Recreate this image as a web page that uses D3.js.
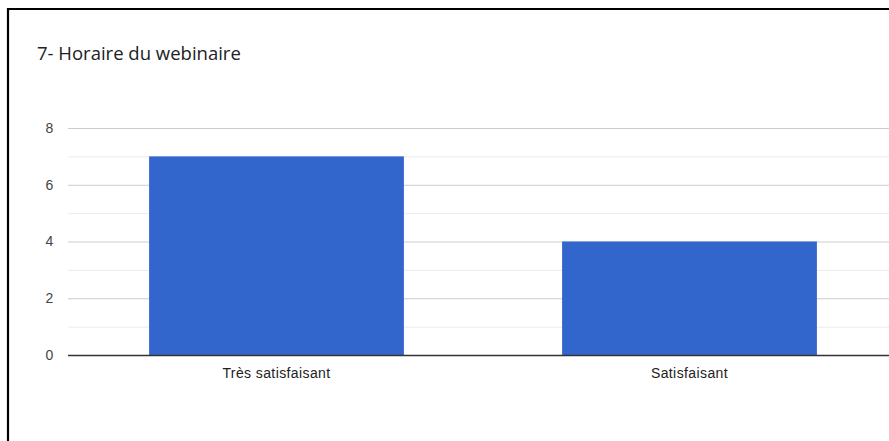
<!DOCTYPE html>
<html>
<head>
<meta charset="utf-8">
<script src="https://cdn.jsdelivr.net/npm/d3@7"></script>
<style>
  body { margin: 0; background: #fff; }
  svg { display: block; }
</style>
</head>
<body>
<div id="chart"></div>
<script>
// data
var categories = ["Très satisfaisant", "Satisfaisant"];
var counts = [7, 4];
var yTicks = [0, 2, 4, 6, 8];
var yMinor = [1, 3, 5, 7];
var title = "7- Horaire du webinaire";

var w = 889, h = 441;
var margin = {top: 128, right: -7, bottom: 86, left: 70};
var width = w - margin.left - margin.right;
var height = h - margin.top - margin.bottom;

var xScale = d3.scaleBand().domain(categories).range([0, width]).paddingInner(0.383).paddingOuter(0.1915);
var yScale = d3.scaleLinear().domain([0, 8]).range([height, 0]);

var svg = d3.select("#chart").append("svg")
    .attr("width", w)
    .attr("height", h);

// frame (cropped screenshot: only top and left edges show)
svg.append("line").attr("x1", 8).attr("x2", w).attr("y1", 9).attr("y2", 9)
    .style("stroke", "#000").style("stroke-width", 2.2);
svg.append("line").attr("x1", 8).attr("x2", 8).attr("y1", 8).attr("y2", h)
    .style("stroke", "#000").style("stroke-width", 2.2);

svg.append("text")
    .attr("x", 37).attr("y", 60)
    .style("font-family", "'Open Sans', Roboto, Arial, sans-serif")
    .style("font-size", "18.5px")
    .style("fill", "#202124")
    .text(title);

var g = svg.append("g")
    .attr("transform", "translate(" + margin.left + "," + margin.top + ")");

// minor gridlines
g.selectAll("line.minor").data(yMinor).enter().append("line")
    .attr("class", "minor")
    .attr("x1", -2).attr("x2", width)
    .attr("y1", function(d) { return yScale(d) + 0.5; })
    .attr("y2", function(d) { return yScale(d) + 0.5; })
    .style("stroke", "#ebebeb");

// y-axis with gridlines
var yAxis = d3.axisLeft(yScale).tickValues(yTicks).tickSize(-width - 2).tickPadding(16);
g.append("g").attr("class", "y axis")
    .attr("transform", "translate(-2,0)")
    .call(yAxis)
    .call(function(s) {
      s.select(".domain").remove();
      s.selectAll(".tick line").style("stroke", "#cccccc");
      s.selectAll(".tick text")
        .style("font-family", "Arial, 'Liberation Sans', sans-serif")
        .style("font-size", "14px")
        .style("fill", "#444")
        .attr("text-anchor", "middle")
        .attr("x", -18.5);
    });

// bars
g.selectAll("rect.bar").data(counts).enter().append("rect")
    .attr("class", "bar")
    .attr("x", function(d, i) { return xScale(categories[i]); })
    .attr("width", xScale.bandwidth())
    .attr("y", function(d) { return yScale(d); })
    .attr("height", function(d) { return height - yScale(d); })
    .style("fill", "#3366cc");

// baseline
g.append("line")
    .attr("x1", -2).attr("x2", width)
    .attr("y1", height + 0.5).attr("y2", height + 0.5)
    .style("stroke", "#333").style("stroke-width", 1.5);

// x axis labels
var xAxis = d3.axisBottom(xScale).tickSize(0).tickPadding(13.5);
g.append("g").attr("class", "x axis")
    .attr("transform", "translate(0," + height + ")")
    .call(xAxis)
    .call(function(s) {
      s.select(".domain").remove();
      s.selectAll(".tick text")
        .style("font-family", "Arial, 'Liberation Sans', sans-serif")
        .style("font-size", "14px")
        .style("letter-spacing", "0.4px")
        .style("fill", "#222");
    });
</script>
</body>
</html>
